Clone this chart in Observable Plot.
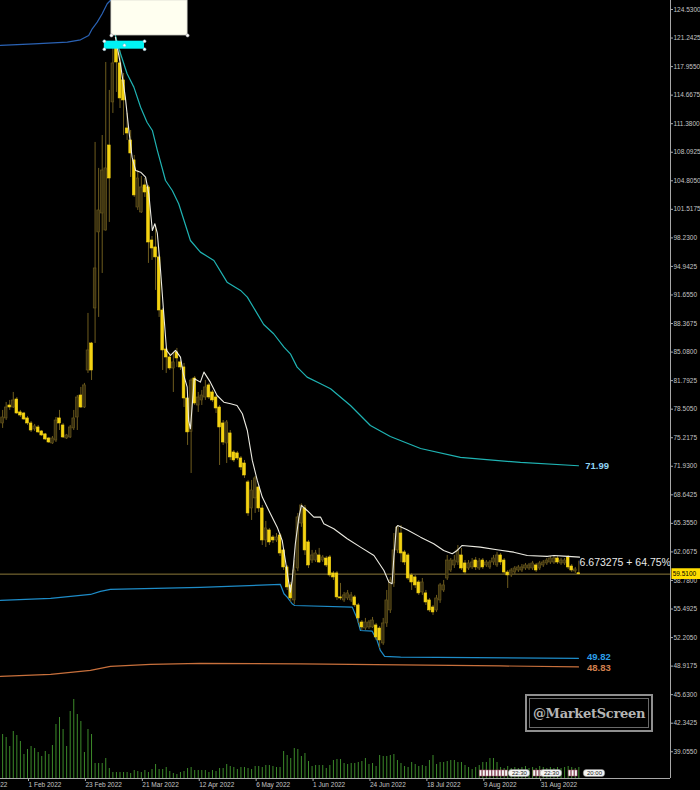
<!DOCTYPE html>
<html><head><meta charset="utf-8">
<script src="https://cdn.jsdelivr.net/npm/d3@7"></script>
<script src="https://cdn.jsdelivr.net/npm/@observablehq/plot@0.6"></script>
<style>
html,body{margin:0;padding:0;background:#000;}
#chart{position:relative;width:700px;height:790px;overflow:hidden;background:#000;}
#wm{position:absolute;left:525px;top:694px;width:128px;height:38px;box-sizing:border-box;border:2px solid #8f8f8f;box-shadow:inset 0 0 0 2px #000,inset 0 0 0 3px #6a6a6a;display:flex;align-items:center;justify-content:center;font-family:"DejaVu Serif",serif;font-weight:bold;font-size:13px;color:#b4b4b4;letter-spacing:-0.3px;}
</style></head><body><div id="chart"></div>
<script>
// ---------- data ----------
const firstBar = 9;
const open  = [76.86,77.44,78.93,78.70,79.62,78.13,78.01,77.44,76.86,76.17,76.40,75.94,75.60,75.13,74.56,74.90,77.44,76.63,75.13,75.25,76.29,77.55,80.08,78.70,82.96,86.07,90.10,98.86,101.04,99.08,108.87,113.83,120.16,118.32,116.36,110.83,109.45,107.15,101.73,101.16,104.27,104.04,97.93,97.13,95.98,89.87,85.38,84.46,83.19,85.04,83.89,83.31,79.74,75.90,82.04,78.93,79.51,79.85,81.24,80.43,79.85,78.70,76.86,74.56,75.71,73.52,73.41,72.83,72.25,70.07,67.07,68.23,69.49,67.07,63.39,64.54,63.73,63.39,63.96,62.24,60.28,58.21,56.48,60.16,65.34,67.07,63.16,61.08,61.08,61.66,61.08,61.31,61.43,59.59,59.59,56.83,56.48,56.71,56.48,56.83,55.91,53.94,53.25,53.37,53.37,53.60,53.25,51.53,53.83,55.33,58.44,62.24,64.19,62.01,61.66,59.36,59.13,58.55,57.40,57.29,56.48,55.67,55.33,56.48,57.63,59.01,59.93,60.51,60.85,61.66,60.74,60.16,60.28,61.08,60.16,61.08,60.51,60.28,60.85,60.51,61.66,61.08,59.70,59.36,59.70,59.93,59.93,60.16,60.16,60.16,60.51,60.16,60.51,60.74,60.85,60.85,61.31,60.74,60.74,61.43,60.39,59.82,59.60];
const high  = [78.36,79.28,79.51,80.43,79.85,78.36,78.13,77.67,77.09,76.75,76.63,76.05,75.71,75.25,75.36,77.55,78.36,76.86,75.60,76.63,78.36,80.08,81.01,81.47,89.53,86.19,109.22,106.23,110.02,118.43,115.21,120.62,121.31,119.81,117.16,112.56,110.60,107.72,105.99,105.30,105.07,104.27,98.39,99.66,96.21,90.10,85.61,84.92,85.04,85.50,84.12,83.77,79.97,82.00,82.27,80.43,80.66,81.81,81.47,80.66,80.08,78.93,77.20,77.20,76.05,73.75,73.64,73.06,72.60,70.30,70.30,70.76,69.72,67.42,65.58,64.77,63.96,64.19,64.19,62.47,60.51,58.55,61.08,66.50,67.60,67.42,63.39,62.24,62.24,62.47,61.66,61.55,61.66,59.82,59.82,58.44,57.40,57.63,57.40,57.06,56.14,54.17,54.41,54.17,54.52,53.83,53.48,54.41,57.63,59.13,64.19,65.11,65.11,62.24,61.89,59.59,59.36,58.78,59.01,57.63,56.71,55.90,57.06,58.44,58.78,61.66,61.31,61.66,62.81,62.47,61.08,61.08,61.31,61.43,61.31,61.31,61.08,61.08,61.66,62.01,61.89,61.31,59.93,60.16,60.39,60.51,60.62,60.74,60.74,60.97,60.74,60.97,61.08,61.31,61.55,61.55,61.55,61.31,61.31,61.66,60.62,60.28,61.00];
const low   = [76.29,77.21,78.36,78.59,77.90,77.55,77.21,76.63,75.82,75.94,75.71,75.36,74.90,74.56,74.44,74.67,76.05,75.13,75.02,75.13,76.05,76.05,78.59,78.59,82.62,81.81,86.07,89.07,94.13,99.00,100.01,112.56,114.98,113.13,110.02,109.45,105.19,102.89,101.39,101.04,102.89,95.29,95.63,92.18,89.07,82.96,82.62,82.96,80.43,83.31,82.96,78.70,74.33,71.10,78.93,78.13,78.93,79.51,79.62,79.28,78.01,72.02,74.33,72.25,72.60,72.37,72.60,71.45,70.53,66.16,65.69,66.50,66.61,62.81,62.58,62.81,63.04,63.16,61.55,59.93,57.63,56.25,56.02,59.80,64.90,61.66,60.16,60.74,60.85,60.74,60.85,60.28,59.13,58.78,56.48,56.48,56.25,56.48,56.25,55.67,53.83,53.02,53.02,53.14,53.25,51.87,50.95,51.30,53.37,54.98,57.98,61.89,60.85,60.51,58.78,57.63,57.86,57.06,57.06,55.90,55.10,54.75,55.10,56.14,57.40,58.78,59.70,60.16,60.51,59.93,59.47,59.93,60.05,59.93,59.93,60.05,60.28,60.05,60.51,60.28,60.51,59.47,57.86,59.13,59.47,59.70,59.70,59.93,59.93,59.93,59.70,59.93,60.28,60.51,60.62,60.62,60.62,60.51,60.51,60.05,59.70,59.59,59.40];
const close = [77.55,78.70,78.70,79.51,78.01,77.78,77.32,76.86,76.05,76.52,75.83,75.48,75.02,74.67,75.13,77.20,76.86,75.25,75.48,76.40,77.44,79.85,78.70,81.24,85.27,82.96,94.71,101.39,105.99,106.23,105.07,118.32,118.43,114.29,114.06,110.25,107.95,103.12,105.07,104.04,103.46,97.70,97.01,95.98,89.87,85.27,84.46,83.19,83.89,84.35,83.31,79.74,75.83,81.80,79.16,79.85,80.08,81.01,79.85,79.51,78.59,76.40,74.67,76.98,72.95,72.60,72.83,71.79,70.87,66.50,69.14,70.53,67.07,63.39,64.77,63.16,63.39,63.73,61.89,60.28,57.98,56.71,59.93,66.04,67.42,62.24,60.51,61.66,61.89,60.85,61.43,60.51,59.36,59.13,56.83,56.71,57.06,57.29,57.06,55.91,54.41,53.37,53.94,53.94,54.17,52.22,51.87,53.83,56.48,58.78,62.24,64.88,61.89,60.85,59.01,58.55,58.21,57.29,58.55,56.25,55.33,55.10,56.71,58.21,58.21,61.08,61.08,61.08,62.24,60.16,59.70,60.74,60.85,60.28,60.97,60.28,60.85,60.85,61.31,61.66,60.85,59.70,59.36,59.93,60.16,60.28,60.28,60.51,60.51,60.74,59.93,60.74,60.85,61.08,61.31,61.31,60.85,61.08,61.08,60.28,59.93,60.05,59.51];
const volume = [44,41,32,47,43,37,24,29,32,30,26,22,27,24,33,54,61,49,32,67,79,64,57,26,49,44,15,15,15,20,10,6,6,6,6,6,5,8,7,6,8,6,9,14,9,9,11,7,5,4,6,7,10,11,8,8,8,8,6,8,7,10,10,14,12,11,9,11,11,10,9,12,12,11,13,13,12,11,11,27,23,20,30,29,22,25,17,12,13,13,13,10,13,18,19,19,15,14,15,15,16,17,20,14,15,12,23,22,22,23,24,18,15,12,11,16,14,12,13,12,18,23,14,16,16,17,18,18,16,16,13,11,9,11,13,16,16,20,20,16,11,10,12,10,11,10,11,12,10,11,10,12,11,10,11,10,11,10,11,12,11,10,11];

// indicator lines: [bar index, price]
const whiteIdx = [40.7,42.1,43.5,44.5,45.4,46.4,47.8,49.2,50.1,51.1,51.8,52.5,53.4,54.3,55.1,56.2,57.6,59,59.8,60.9,61.3,61.8,62.3,62.9,64.6,65.6,67.4,69.3,71.2,73.1,74.9,76.4,77.8,79.2,80.6,82,84.3,86.2,87.6,88.5,89.5,89.9,90.4,91.3,92.3,93,94.6,96.5,98.4,99.3,102.1,105.9,109.6,113.4,116.2,117.6,118.5,119,119.7,120.1,122.7,126.5,130.2,133,135.4,136.8,138.2,143.3,148,152.7,156.5,162.1,164,166.8,171.2];
const whiteVal = [121.34,118.32,114.44,110.6,107.53,105.99,105.8,105.22,103.31,99.08,99.86,98.74,94.48,89.53,85.27,84.69,85.27,84.5,82.58,81.04,77.2,76.25,78.93,82.01,81.62,82.77,81.62,80.08,79.31,79.13,78.93,77.98,76.05,72.6,70.3,68.38,66.46,64.92,63.39,61.08,58.4,57.44,58.78,63.01,66.07,67.42,66.84,66.07,66.07,65.31,64.73,63.58,62.62,61.66,59.93,58.59,58.4,61.47,64.92,65.11,64.62,63.77,63.01,62.24,61.86,62.24,62.81,62.62,62.32,62.04,61.66,61.55,61.66,61.58,61.47];
const cyanIdx = [40.7,41.7,44,45.9,47.8,49.6,51.1,52.5,54.8,56.7,58.5,61.8,64.6,68.4,72.1,75.9,77.8,82.4,85.2,88.1,89.9,91.8,94.6,98.4,101.2,106.8,112.4,118,126.5,137.7,154.6,170.9];
const cyanVal = [121.54,120.01,117.13,115.59,113.28,111.55,110.6,108.3,104.84,103.69,102.16,97.93,96.59,95.63,93.13,92.18,91.41,88.26,87.19,85.65,84.88,83.35,82.2,81.43,80.86,78.93,76.63,75.36,73.98,72.95,72.37,71.99];
const upperBlueIdx = [8.4,17.8,27.2,30.9,33.2,34.2,35.6,37,38.4,39.3];
const upperBlueVal = [120.39,120.58,120.77,121.04,121.54,122.31,123.07,124.04,125.19,125.57];
const lowerBlueIdx = [8.4,22.5,33.7,36.5,39.3,64.6,87.1,88.1,89,90.4,91.1,107.3,108.7,109.6,112.9,114.3,115.2,116.4,120.9,170.9];
const lowerBlueVal = [56.48,56.71,57.17,57.52,57.75,57.98,58.32,57.25,56.86,56.1,55.9,55.71,54.37,53.02,52.94,51.87,50.72,50.03,49.95,49.82];
const orangeIdx = [8.4,22.5,33.7,39.3,50.6,64.6,92.7,120.9,149,170.9];
const orangeVal = [47.73,47.96,48.42,48.88,49.11,49.23,49.17,49.05,48.94,48.83];

const currentPrice = 59.51;
const lineLabels = [
  {i: 172.8, p: 71.99, text: "71.99", color: "#8fd3f4"},
  {i: 173.3, p: 50.0, text: "49.82", color: "#2b9fe8"},
  {i: 173.3, p: 48.72, text: "48.83", color: "#d0804e"}
];
const infoLabel = {i: 171.2, p: 60.85, text: "6.673275 + 64.75%"};

// drawing objects (bar index / price)
const creamBox = {i1: 39.6, i2: 61.0, p1: 121.54, p2: 125.57};
const cyanBox = {i1: 37.6, i2: 48.9, p1: 119.96, p2: 120.88};

// axes
const yTicks = [124.53,121.2425,117.955,114.6675,111.38,108.0925,104.805,101.5175,98.23,94.9425,91.655,88.3675,85.08,81.7925,78.505,75.2175,71.93,68.6425,65.355,62.0675,58.78,55.4925,52.205,48.9175,45.63,42.3425,39.055];
const xTickIdx = [0,16,32,48,64,80,96,112,128,144,160];
const xTickLabels = ["10 Jan 2022","1 Feb 2022","23 Feb 2022","21 Mar 2022","12 Apr 2022","6 May 2022","1 Jun 2022","24 Jun 2022","18 Jul 2022","9 Aug 2022","31 Aug 2022"];

// calendar event markers at the bottom
const flagIdx = [143.5,144.4,145.3,146.2,147.1,148.0,148.9,149.8,150.7,158.6,159.5,160.4,168.5,169.4,170.3];
const eventIdx = [154.3,163.3,175.4];
const eventText = ["22:30","22:30","20:00"];

// ---------- view ----------
const xLeft = 8.406, xRight = 196.77;
const yBottom = 35.976, yTop = 125.566;
const pricePerPx = (yTop - yBottom) / 778;

const bars = open.map((o, k) => {
  const c = close[k];
  let lo = Math.min(o, c), hi = Math.max(o, c);
  if (hi - lo < pricePerPx) { const m = (hi + lo) / 2; lo = m - pricePerPx / 2; hi = m + pricePerPx / 2; }
  return {i: firstBar + k, o, h: high[k], l: low[k], c, lo, hi, v: volume[k], bull: c >= o};
});
const pts = (xs, ys) => xs.map((x, k) => ({i: x, p: ys[k]}));
const events = eventIdx.map((x, k) => ({i: x, t: eventText[k]}));
const creamHandles = [{i: creamBox.i1, p: creamBox.p1}, {i: creamBox.i2, p: creamBox.p1}];
const cyanHandles = [
  {i: cyanBox.i1, p: cyanBox.p1}, {i: cyanBox.i2, p: cyanBox.p1},
  {i: cyanBox.i1, p: cyanBox.p2}, {i: cyanBox.i2, p: cyanBox.p2},
  {i: (cyanBox.i1 + cyanBox.i2) / 2, p: (cyanBox.p1 + cyanBox.p2) / 2}
];

const font = "'Liberation Sans',Arial,sans-serif";

const chart = Plot.plot({
  width: 700, height: 790,
  marginLeft: 0, marginRight: 30, marginTop: 0, marginBottom: 12,
  style: {background: "#000", color: "#c4c4c4", fontFamily: font, fontSize: "7px"},
  x: {type: "linear", domain: [xLeft, xRight], axis: null},
  y: {type: "linear", domain: [yBottom, yTop], axis: null},
  marks: [
    // volume
    Plot.ruleX(bars, {x: "i", y1: yBottom, y2: d => yBottom + d.v * pricePerPx, stroke: "#3c8a2a", strokeWidth: 1}),
    // bands
    Plot.line(pts(orangeIdx, orangeVal), {x: "i", y: "p", stroke: "#c8703c", strokeWidth: 1.2, clip: true}),
    Plot.line(pts(lowerBlueIdx, lowerBlueVal), {x: "i", y: "p", stroke: "#1e8cc8", strokeWidth: 1.2, clip: true}),
    Plot.line(pts(upperBlueIdx, upperBlueVal), {x: "i", y: "p", stroke: "#2a62b4", strokeWidth: 1.2, clip: true}),
    // current price line
    Plot.ruleY([currentPrice], {stroke: "#8c7a3a", strokeWidth: 1}),
    // candles
    Plot.ruleX(bars, {x: "i", y1: "l", y2: "h", stroke: "#6e5c1e", strokeWidth: 1}),
    Plot.rect(bars, {x1: d => d.i - 0.38, x2: d => d.i + 0.38, y1: "lo", y2: "hi",
      fill: d => d.bull ? "#3a3110" : "#f4d312", stroke: d => d.bull ? "#6e5c1e" : "#f4d312", strokeWidth: 0.6}),
    // indicator lines
    Plot.line(pts(cyanIdx, cyanVal), {x: "i", y: "p", stroke: "#1fb3b3", strokeWidth: 1.2}),
    Plot.line(pts(whiteIdx, whiteVal), {x: "i", y: "p", stroke: "#ecebe2", strokeWidth: 1.1}),
    // drawing objects
    Plot.rect([creamBox], {x1: "i1", x2: "i2", y1: "p1", y2: "p2", fill: "#fffff0", stroke: "#d8d8d0", strokeWidth: 0.8}),
    Plot.dot(creamHandles, {x: "i", y: "p", r: 1.6, fill: "#ffffff", stroke: "#9a9a9a", strokeWidth: 0.6}),
    Plot.rect([cyanBox], {x1: "i1", x2: "i2", y1: "p1", y2: "p2", fill: "#00f4f4"}),
    Plot.dot(cyanHandles, {x: "i", y: "p", r: 1.5, fill: "#ffffff", stroke: "#7ab", strokeWidth: 0.5}),
    // labels
    Plot.text(lineLabels, {x: "i", y: "p", text: "text", fill: "color", textAnchor: "start", fontSize: 9.5, fontWeight: "bold"}),
    Plot.text([infoLabel], {x: "i", y: "p", text: "text", fill: "#e8e8e8", textAnchor: "start", fontSize: 10.5, letterSpacing: "0.3px"}),
    // event markers
    Plot.rect(flagIdx, {x1: d => d - 0.35, x2: d => d + 0.35, y1: yBottom + 2 * pricePerPx, y2: yBottom + 8 * pricePerPx, fill: "#f4f4f4", stroke: "#b05070", strokeWidth: 0.5}),
    Plot.rect(events, {x1: d => d.i - 3.0, x2: d => d.i + 3.0, y1: yBottom + 1.5 * pricePerPx, y2: yBottom + 8.5 * pricePerPx, fill: "#f4f4f4", stroke: "#888", strokeWidth: 0.5, rx: 3}),
    Plot.text(events, {x: "i", y: yBottom + 5 * pricePerPx, text: "t", fill: "#222", fontSize: 6}),
    // axes
    Plot.ruleX([xRight], {stroke: "#a8a8a8", strokeWidth: 1}),
    Plot.ruleY([yBottom], {stroke: "#a8a8a8", strokeWidth: 1}),
    Plot.axisY(yTicks, {anchor: "right", tickFormat: d => d.toFixed(4), tickSize: 2, tickPadding: 1, fontSize: 6.5, letterSpacing: "-0.25px", stroke: "#a8a8a8", fill: "#c4c4c4"}),
    Plot.axisX(xTickIdx, {anchor: "bottom", tickFormat: d => xTickLabels[xTickIdx.indexOf(d)], tickSize: 3, tickPadding: 1, fontSize: 6.5, letterSpacing: "-0.3px", textAnchor: "start", dx: 1, stroke: "#a8a8a8", fill: "#c4c4c4"}),
    // current price tag
    Plot.rect([currentPrice], {x1: xRight + 0.4, x2: xRight + 8.6, y1: d => d - 0.62, y2: d => d + 0.62, fill: "#ffdd00"}),
    Plot.text([currentPrice], {x: xRight + 0.6, y: d => d, text: d => d.toFixed(4), fill: "#000", textAnchor: "start", fontSize: 6.5, letterSpacing: "-0.25px"})
  ]
});
document.getElementById("chart").appendChild(chart);
const wm = document.createElement("div");
wm.id = "wm";
wm.textContent = "@MarketScreen";
document.getElementById("chart").appendChild(wm);
</script>
</body></html>
